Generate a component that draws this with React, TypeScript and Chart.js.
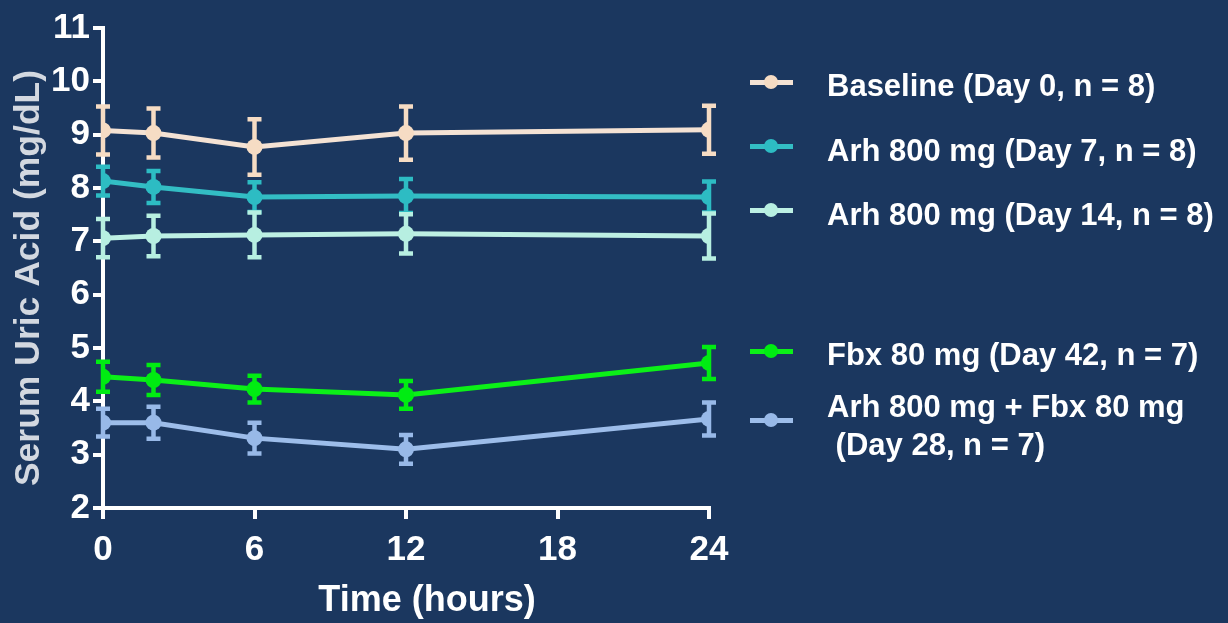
import React, { useEffect, useRef } from "react";
import { Chart, registerables } from "chart.js";

Chart.register(...registerables);

const times = [0, 2, 6, 12, 24];
const xTicks = [0, 6, 12, 18, 24];

const baseline = [9.08, 9.03, 8.77, 9.03, 9.09];
const baselineErr = [0.45, 0.46, 0.52, 0.5, 0.45];
const arhDay7 = [8.13, 8.02, 7.83, 7.85, 7.83];
const arhDay7Err = [0.27, 0.3, 0.28, 0.32, 0.29];
const arhDay14 = [7.06, 7.1, 7.12, 7.14, 7.1];
const arhDay14Err = [0.36, 0.38, 0.42, 0.37, 0.42];
const fbx = [4.46, 4.4, 4.23, 4.12, 4.72];
const fbxErr = [0.28, 0.28, 0.25, 0.26, 0.3];
const combo = [3.6, 3.6, 3.31, 3.1, 3.67];
const comboErr = [0.26, 0.3, 0.29, 0.27, 0.31];

const seriesLabels = [
  "Baseline (Day 0, n = 8)",
  "Arh 800 mg (Day 7, n = 8)",
  "Arh 800 mg (Day 14, n = 8)",
  "Fbx 80 mg (Day 42, n = 7)",
  "Arh 800 mg + Fbx 80 mg\n (Day 28, n = 7)",
];

const BG = "#1b375f";
const FONT = '"Liberation Sans", Arial, Helvetica, sans-serif';

const series = [
  { label: seriesLabels[0], values: baseline, err: baselineErr, color: "#f6dcc4", line: "#f4e2d4" },
  { label: seriesLabels[1], values: arhDay7, err: arhDay7Err, color: "#2dbcc3", line: "#33bdc4" },
  { label: seriesLabels[2], values: arhDay14, err: arhDay14Err, color: "#b7efe1", line: "#bdf0e4" },
  { label: seriesLabels[3], values: fbx, err: fbxErr, color: "#00ec12", line: "#0cf018" },
  { label: seriesLabels[4], values: combo, err: comboErr, color: "#98b9e8", line: "#9dbdea" },
];

const legendRows = [
  { center: 86, marker: 82 },
  { center: 151, marker: 146 },
  { center: 215, marker: 210 },
  { center: 355, marker: 351 },
  { center: 426, marker: 420 },
];

const errorBarPlugin = {
  id: "errorBars",
  beforeDatasetsDraw(chart: any) {
    const ctx = chart.ctx;
    const xs = chart.scales.x;
    const ys = chart.scales.y;
    ctx.save();
    chart.data.datasets.forEach((ds: any) => {
      ctx.strokeStyle = ds.errColor;
      ctx.lineWidth = 4.5;
      ctx.lineCap = "butt";
      ds.data.forEach((p: any, i: number) => {
        const e = ds.errors[i];
        const px = xs.getPixelForValue(p.x);
        const top = ys.getPixelForValue(p.y + e);
        const bot = ys.getPixelForValue(p.y - e);
        ctx.beginPath();
        ctx.moveTo(px, top);
        ctx.lineTo(px, bot);
        ctx.moveTo(px - 7, top);
        ctx.lineTo(px + 7, top);
        ctx.moveTo(px - 7, bot);
        ctx.lineTo(px + 7, bot);
        ctx.stroke();
      });
    });
    ctx.restore();
  },
};

const titlePlugin = {
  id: "axisTitles",
  afterDraw(chart: any) {
    const ctx = chart.ctx;
    ctx.save();
    ctx.fillStyle = "#ffffff";
    ctx.font = `bold 36px ${FONT}`;
    ctx.textAlign = "center";
    ctx.textBaseline = "middle";
    ctx.fillText("Time (hours)", 427, 601);
    ctx.translate(29, 278);
    ctx.rotate(-Math.PI / 2);
    ctx.fillStyle = "#d3d8e0";
    ctx.font = `bold 35.5px ${FONT}`;
    ctx.fillText("Serum Uric Acid (mg/dL)", 0, 0);
    ctx.restore();
  },
};

export default function App() {
  const canvasRef = useRef<HTMLCanvasElement | null>(null);

  useEffect(() => {
    if (!canvasRef.current) return;
    const chart = new Chart(canvasRef.current, {
      type: "line",
      data: {
        datasets: series.map((s) => ({
          label: s.label,
          data: times.map((t, i) => ({ x: t, y: s.values[i] })),
          errors: s.err,
          errColor: s.color,
          borderColor: s.line,
          backgroundColor: s.color,
          pointBackgroundColor: s.color,
          pointBorderWidth: 0,
          pointRadius: 8,
          borderWidth: 5,
          tension: 0,
        })) as any,
      },
      options: {
        animation: false,
        responsive: false,
        maintainAspectRatio: false,
        layout: { padding: { left: 0, right: 519, top: 28, bottom: 0 } },
        plugins: { legend: { display: false }, tooltip: { enabled: false } },
        scales: {
          x: {
            type: "linear",
            min: 0,
            max: 24,
            afterBuildTicks: (scale: any) => {
              scale.ticks = xTicks.map((v) => ({ value: v }));
            },
            ticks: {
              color: "#ffffff",
              font: { size: 35, weight: "bold", family: FONT },
              padding: 10,
              maxRotation: 0,
            },
            grid: {
              display: true,
              drawOnChartArea: false,
              drawTicks: true,
              tickLength: 11,
              color: "#ffffff",
              lineWidth: 4,
            },
            border: { display: true, color: "#ffffff", width: 4 },
            afterFit: (scale: any) => {
              scale.height = 115;
            },
          },
          y: {
            min: 2,
            max: 11,
            ticks: {
              stepSize: 1,
              color: "#ffffff",
              font: { size: 35, weight: "bold", family: FONT },
              padding: 3,
            },
            grid: {
              display: true,
              drawOnChartArea: false,
              drawTicks: true,
              tickLength: 10,
              color: "#ffffff",
              lineWidth: 4,
            },
            border: { display: true, color: "#ffffff", width: 4 },
            afterFit: (scale: any) => {
              scale.width = 103;
            },
          },
        },
      } as any,
      plugins: [errorBarPlugin, titlePlugin],
    });
    return () => chart.destroy();
  }, []);

  return (
    <div
      style={{
        position: "fixed",
        left: 0,
        top: 0,
        width: 1228,
        height: 623,
        background: BG,
        overflow: "hidden",
      }}
    >
      <canvas ref={canvasRef} width={1228} height={623} style={{ display: "block", width: 1228, height: 623 }} />
      {series.map((s, i) => {
        const row = legendRows[i];
        const lines = s.label.split("\n");
        const lh = 38;
        return (
          <React.Fragment key={i}>
            <div
              style={{
                position: "absolute",
                left: 750,
                top: row.marker - 2.5,
                width: 43,
                height: 5,
                background: s.line,
              }}
            />
            <div
              style={{
                position: "absolute",
                left: 771 - 7,
                top: row.marker - 7,
                width: 14,
                height: 14,
                borderRadius: "50%",
                background: s.color,
              }}
            />
            <div
              style={{
                position: "absolute",
                left: 827,
                top: row.center - (lh * lines.length) / 2,
                lineHeight: `${lh}px`,
                fontSize: 31,
                fontWeight: "bold",
                fontFamily: FONT,
                color: "#ffffff",
                whiteSpace: "pre",
              }}
            >
              {s.label}
            </div>
          </React.Fragment>
        );
      })}
    </div>
  );
}
